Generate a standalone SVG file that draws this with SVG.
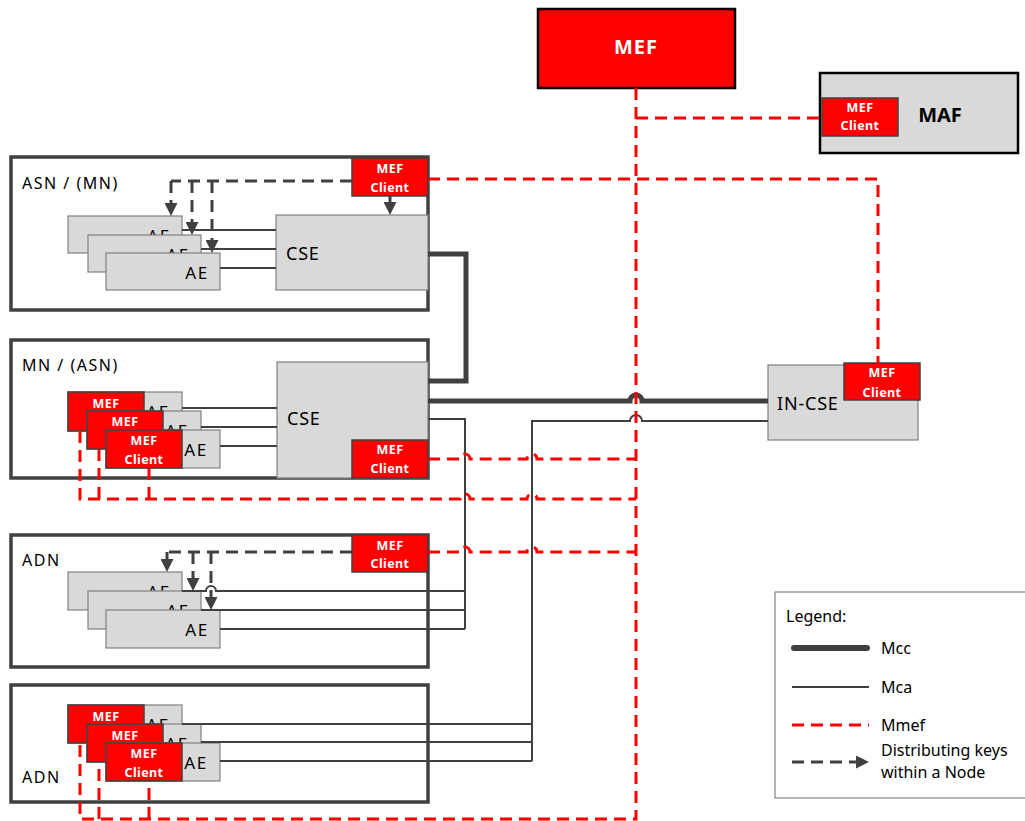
<svg xmlns="http://www.w3.org/2000/svg" width="1025" height="821" viewBox="0 0 1025 821">
<style>
text{font-family:"Noto Sans","Open Sans","Liberation Sans",sans-serif;}
.container{fill:#fff;stroke:#404040;stroke-width:3.5;}
.grey{fill:#d9d9d9;stroke:#808080;stroke-width:1.2;}
.client{fill:#ff0000;stroke:#404040;stroke-width:1.5;}
.ct{fill:#fff;font-size:12.5px;font-weight:bold;text-anchor:middle;letter-spacing:0.4px;}
.lbl{fill:#000;font-size:16px;letter-spacing:1.5px;}
.cse{fill:#000;font-size:18px;letter-spacing:0.8px;}
.ae{fill:#000;font-size:17px;text-anchor:middle;letter-spacing:1.5px;}
.lg{fill:#000;font-size:16px;}
.mcc{fill:none;stroke:#404040;stroke-width:5;}
.mca{fill:none;stroke:#404040;stroke-width:2;}
.mmef{fill:none;stroke:#ff0000;stroke-width:3;stroke-dasharray:12 7;}
.key{fill:none;stroke:#404040;stroke-width:3;stroke-dasharray:12 7;}
.keyarr{fill:none;stroke:#404040;stroke-width:3;stroke-dasharray:12 7;marker-end:url(#arr);}
</style>
<defs>
<marker id="arr" markerUnits="userSpaceOnUse" markerWidth="13" markerHeight="13" viewBox="0 0 13 13" refX="1" refY="6.5" orient="auto">
<path d="M0,0 L13,6.5 L0,13 z" fill="#404040"/>
</marker>
</defs>
<rect width="1025" height="821" fill="#fff"/>

<!-- MEF -->
<g id="mef">
<rect x="538" y="9" width="197" height="79" fill="#ff0000" stroke="#000" stroke-width="2.5"/>
<text x="636" y="54" fill="#fff" font-size="20" font-weight="bold" text-anchor="middle" letter-spacing="1">MEF</text>
</g>

<!-- MAF -->
<g id="maf">
<rect x="820" y="73" width="198" height="80" fill="#d9d9d9" stroke="#000" stroke-width="2.5"/>
<rect class="client" x="822" y="98" width="76" height="38"/>
<text class="ct" x="860" y="112">MEF</text>
<text class="ct" x="860" y="130">Client</text>
<text x="940" y="122" fill="#000" font-size="20" font-weight="bold" text-anchor="middle">MAF</text>
</g>

<!-- ASN / (MN) -->
<g id="asn">
<rect class="container" x="11" y="157" width="417" height="153"/>
<text class="lbl" x="22" y="189">ASN / (MN)</text>
<rect class="client" x="352" y="158" width="76" height="38"/>
<text class="ct" x="390" y="173">MEF</text>
<text class="ct" x="390" y="192">Client</text>
<rect class="grey" x="276" y="215" width="152" height="75"/>
<text class="cse" x="286" y="260">CSE</text>
<rect class="grey" x="68" y="216" width="114" height="37"/>
<text class="ae" x="159" y="242">AE</text>
<rect class="grey" x="88" y="235" width="113" height="37"/>
<text class="ae" x="178" y="261">AE</text>
<rect class="grey" x="106" y="253" width="114" height="37"/>
<text class="ae" x="197" y="279">AE</text>
</g>

<!-- MN / (ASN) -->
<g id="mn">
<rect class="container" x="11" y="340" width="417" height="138"/>
<text class="lbl" x="22" y="371">MN / (ASN)</text>
<rect class="grey" x="277" y="362" width="151" height="116"/>
<text class="cse" x="287" y="425">CSE</text>
<rect class="client" x="352" y="440" width="76" height="38"/>
<text class="ct" x="390" y="454">MEF</text>
<text class="ct" x="390" y="473">Client</text>
<rect class="grey" x="68" y="392" width="114" height="39"/>
<text class="ae" x="158" y="418">AE</text>
<rect class="client" x="68" y="392" width="76" height="39"/>
<text class="ct" x="106" y="408">MEF</text>
<rect class="grey" x="87" y="411" width="114" height="38"/>
<text class="ae" x="177" y="437">AE</text>
<rect class="client" x="87" y="411" width="76" height="38"/>
<text class="ct" x="125" y="426">MEF</text>
<rect class="grey" x="106" y="430" width="114" height="38"/>
<text class="ae" x="196" y="456">AE</text>
<rect class="client" x="106" y="430" width="76" height="38"/>
<text class="ct" x="144" y="445">MEF</text>
<text class="ct" x="144" y="464">Client</text>
</g>

<!-- ADN 1 -->
<g id="adn1">
<rect class="container" x="11" y="535" width="417" height="132"/>
<text class="lbl" x="22" y="566">ADN</text>
<rect class="client" x="352" y="535" width="76" height="37"/>
<text class="ct" x="390" y="550">MEF</text>
<text class="ct" x="390" y="568">Client</text>
<rect class="grey" x="68" y="572" width="114" height="38"/>
<text class="ae" x="159" y="598">AE</text>
<rect class="grey" x="88" y="591" width="113" height="38"/>
<text class="ae" x="178" y="617">AE</text>
<rect class="grey" x="106" y="610" width="114" height="38"/>
<text class="ae" x="197" y="636">AE</text>
</g>

<!-- ADN 2 -->
<g id="adn2">
<rect class="container" x="11" y="685" width="417" height="117"/>
<text class="lbl" x="22" y="783">ADN</text>
<rect class="grey" x="68" y="705" width="114" height="38"/>
<text class="ae" x="158" y="731">AE</text>
<rect class="client" x="68" y="705" width="76" height="38"/>
<text class="ct" x="106" y="721">MEF</text>
<rect class="grey" x="87" y="724" width="114" height="38"/>
<text class="ae" x="177" y="750">AE</text>
<rect class="client" x="87" y="724" width="76" height="38"/>
<text class="ct" x="125" y="740">MEF</text>
<rect class="grey" x="106" y="743" width="114" height="38"/>
<text class="ae" x="196" y="769">AE</text>
<rect class="client" x="106" y="743" width="76" height="38"/>
<text class="ct" x="144" y="758">MEF</text>
<text class="ct" x="144" y="777">Client</text>
</g>

<!-- IN-CSE -->
<g id="in-cse">
<rect class="grey" x="768" y="365" width="150" height="75"/>
<text class="cse" x="777" y="410" font-size="17">IN-CSE</text>
<rect class="client" x="844" y="363" width="76" height="37"/>
<text class="ct" x="882" y="377">MEF</text>
<text class="ct" x="882" y="397">Client</text>
</g>

<!-- Legend -->
<g id="legend">
<rect x="775" y="592" width="260" height="206" fill="#fff" stroke="#808080" stroke-width="1.2"/>
<text class="lg" x="786" y="622">Legend:</text>
<line x1="794" y1="648" x2="867" y2="648" stroke="#404040" stroke-width="6" stroke-linecap="round"/>
<text class="lg" x="881" y="654">Mcc</text>
<line x1="792" y1="687" x2="869" y2="687" stroke="#404040" stroke-width="2"/>
<text class="lg" x="881" y="693">Mca</text>
<line x1="792" y1="725" x2="869" y2="725" class="mmef" stroke-dasharray="13 7"/>
<text class="lg" x="881" y="731">Mmef</text>
<line x1="792" y1="762" x2="857" y2="762" class="keyarr" stroke-dasharray="11 6"/>
<text class="lg" x="881" y="756">Distributing keys</text>
<text class="lg" x="881" y="778">within a Node</text>
</g>

<!-- Connectors -->
<g id="connectors">
<!-- Mcc -->
<path class="mcc" d="M428,254 H466 V381 H428"/>
<path class="mcc" d="M428,401 H630 A6,6 0 0 1 642,401 H768"/>
<!-- Mca -->
<path class="mca" d="M182,230 H276 M201,249 H276 M220,268 H276"/>
<path class="mca" d="M182,408 H277 M201,427 H277 M220,446 H277"/>
<path class="mca" d="M428,419 H465 V629"/>
<path class="mca" d="M182,591 H206 A5,5 0 0 1 216,591 H465 M201,610 H465 M220,629 H465"/>
<path class="mca" d="M532,761 V421 H630 A6,6 0 0 1 642,421 H768"/>
<path class="mca" d="M182,724 H532 M201,742 H532 M220,761 H532"/>
<!-- Mmef -->
<path class="mmef" d="M636,88 V819 H80 V743"/>
<path class="mmef" d="M99,819 V762"/>
<path class="mmef" d="M149,819 V781"/>
<path class="mmef" d="M636,118 H820"/>
<path class="mmef" d="M428,179 H878 V363"/>
<path class="mmef" d="M428,459 H460 A5,5 0 0 1 470,459 H527 A5,5 0 0 1 537,459 H636"/>
<path class="mmef" d="M80,431 V499 H460 A5,5 0 0 1 470,499 H527 A5,5 0 0 1 537,499 H636"/>
<path class="mmef" d="M99,449 V499"/>
<path class="mmef" d="M149,468 V499"/>
<path class="mmef" d="M428,552 H460 A5,5 0 0 1 470,552 H527 A5,5 0 0 1 537,552 H636"/>
<!-- Distributing keys -->
<path class="key" d="M352,181 H171"/>
<path class="keyarr" d="M171,181 V204"/>
<path class="keyarr" d="M192,181 V223"/>
<path class="keyarr" d="M212,181 V241"/>
<path class="keyarr" d="M390,196 V203"/>
<path class="key" d="M352,552 H167"/>
<path class="keyarr" d="M167,552 V560"/>
<path class="keyarr" d="M193,552 V579"/>
<path class="keyarr" d="M211,552 V598"/>
</g>
</svg>
